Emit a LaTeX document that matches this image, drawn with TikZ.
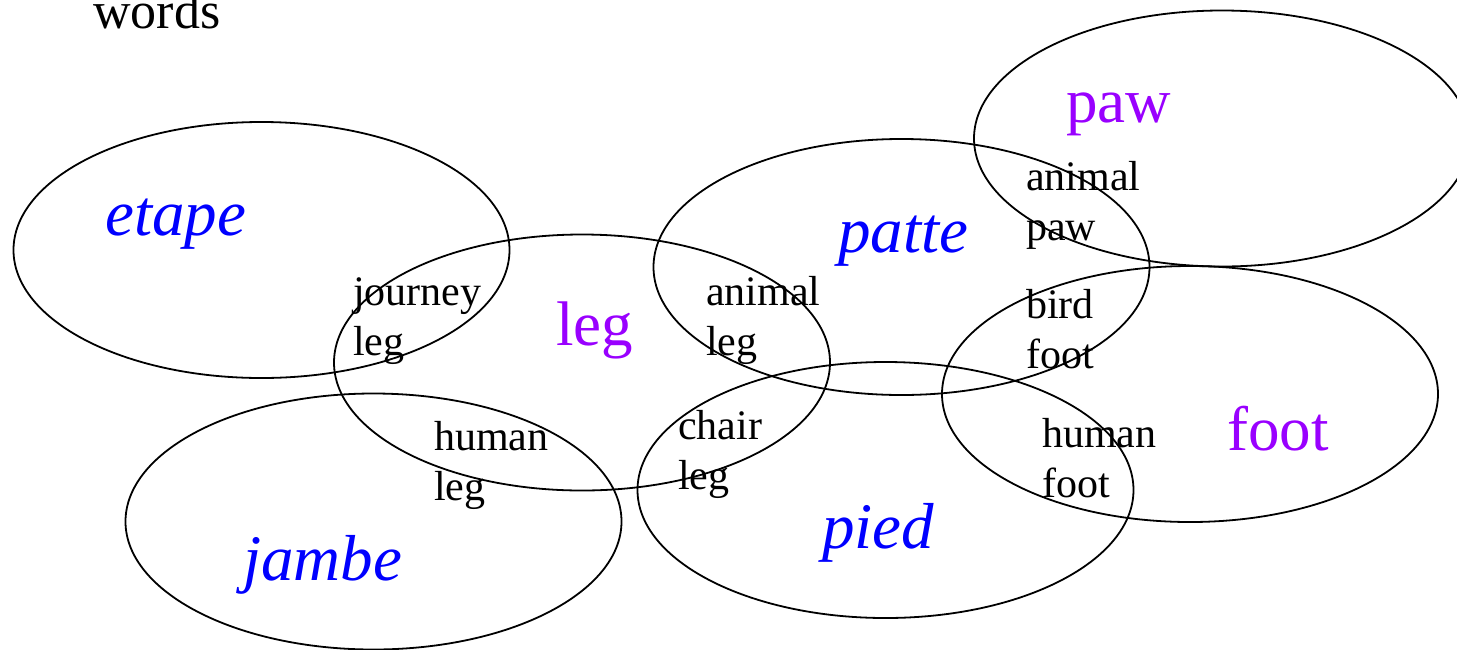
\documentclass[tikz,border=0pt]{standalone}
\usepackage{fontspec}
\setmainfont{Liberation Serif}
\usetikzlibrary{shapes.geometric}
\definecolor{wordblue}{RGB}{0,0,255}
\definecolor{wordpurple}{RGB}{153,0,255}
\tikzset{
  sense/.style={ellipse, draw=black, line width=1.8pt, minimum width=496pt, minimum height=256pt, inner sep=0pt},
  french/.style={anchor=base west, inner sep=0pt, text=wordblue, font=\fontsize{65}{72}\selectfont\itshape},
  english/.style={anchor=base west, inner sep=0pt, text=wordpurple, font=\fontsize{63}{70}\selectfont},
  gloss/.style={anchor=base west, inner sep=0pt, align=left, font=\fontsize{42}{50}\selectfont},
}
\begin{document}
\begin{tikzpicture}[x=1pt, y=-1pt]
\useasboundingbox (0,0) rectangle (1457,649);

% word-sense ellipses
\node[sense] (etapeE) at (261.5,250) {};
\node[sense] (legE)   at (582,362.5) {};
\node[sense] (jambeE) at (373.5,521.5) {};
\node[sense] (patteE) at (901.5,267) {};
\node[sense] (piedE)  at (885.5,490) {};
\node[sense] (pawE)   at (1222,138.5) {};
\node[sense] (footE)  at (1190,394) {};

% heading
\node[anchor=base west, inner sep=0pt, font=\fontsize{52}{60}\selectfont] (title) at (93,28) {words};

% French words
\node[french] (etape) at (105,235) {etape};
\node[french] (patte) at (838,252) {patte};
\node[french] (pied)  at (822,548) {pied};
\node[french] (jambe) at (243,580) {jambe};

% English words
\node[english] (leg)  at (556,345) {leg};
\node[english] (paw)  at (1066,122) {paw};
\node[english] (foot) at (1227,450) {foot};

% glosses in the overlaps (anchored at the baseline of the second line)
\node[gloss] (journeyleg) at (353,355) {journey\\leg};
\node[gloss] (animalleg)  at (706,355) {animal\\leg};
\node[gloss] (humanleg)   at (434,500) {human\\leg};
\node[gloss] (chairleg)   at (678,489) {chair\\leg};
\node[gloss] (animalpaw)  at (1026,240) {animal\\paw};
\node[gloss] (birdfoot)   at (1026,368) {bird\\foot};
\node[gloss] (humanfoot)  at (1042,497) {human\\foot};
\end{tikzpicture}
\end{document}
